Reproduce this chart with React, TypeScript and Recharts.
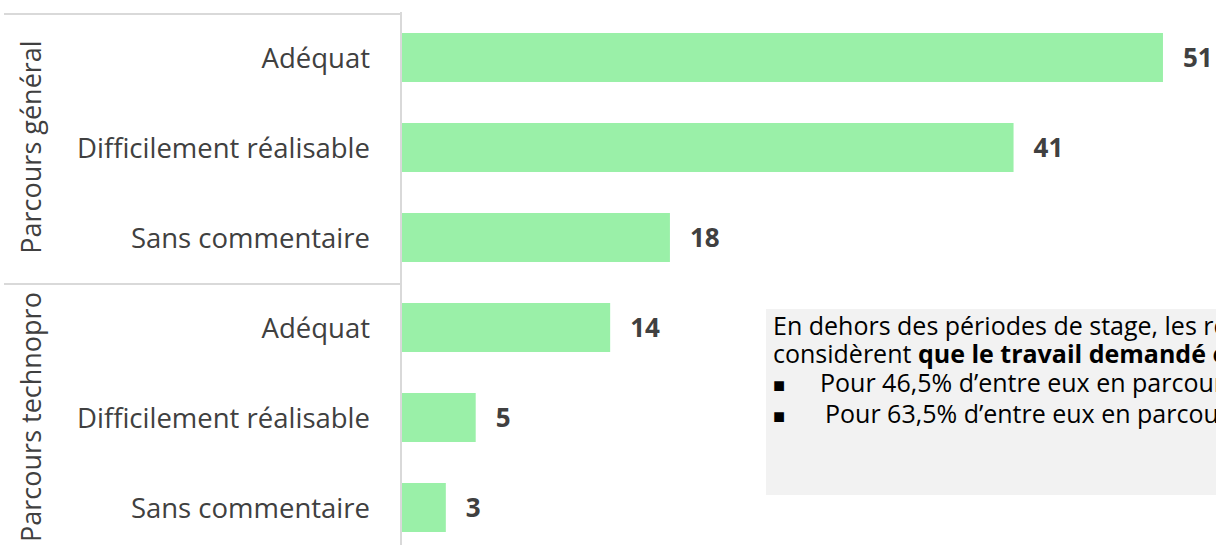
import { Bar, BarChart, LabelList, XAxis, YAxis } from 'recharts';

const categories = [
    'Adéquat',
    'Difficilement réalisable',
    'Sans commentaire',
    'Adéquat',
    'Difficilement réalisable',
    'Sans commentaire',
];
const groups = ['Parcours général', 'Parcours technopro'];
const groupOf = [0, 0, 0, 1, 1, 1];
const values = [51, 41, 18, 14, 5, 3];

const data = categories.map((name, i) => ({
    key: `${groupOf[i]}-${name}`,
    name,
    group: groups[groupOf[i]],
    value: values[i],
}));

const FONT = '"Open Sans", sans-serif';
const TEXT = '#404040';
const GRID = '#d9d9d9';

function CategoryTick(props: any) {
    const { y, payload, index } = props;
    const row = data[index];
    const half = payload.offset ?? 45;
    const first = index === 0 || groupOf[index] !== groupOf[index - 1];
    const middle = index === 1 || index === 4;
    return (
        <g>
            <text
                x={370}
                y={y}
                textAnchor="end"
                dominantBaseline="central"
                fontFamily={FONT}
                fontSize={27.5}
                fill={TEXT}
            >
                {row ? row.name : ''}
            </text>
            {first && (
                <line x1={4} x2={401} y1={y - half + 2} y2={y - half + 2} stroke={GRID} strokeWidth={2} />
            )}
            {middle && (
                <text
                    x={30}
                    y={y}
                    transform={`rotate(-90 30 ${y})`}
                    textAnchor="middle"
                    dominantBaseline="central"
                    fontFamily={FONT}
                    fontSize={27}
                    fill={TEXT}
                >
                    {row.group}
                </text>
            )}
        </g>
    );
}

export default function App() {
    return (
        <div
            style={{
                position: 'absolute',
                left: 0,
                top: 0,
                width: 1216,
                height: 545,
                overflow: 'hidden',
                background: '#fff',
            }}
        >
            <BarChart
                width={1216}
                height={560}
                data={data}
                layout="vertical"
                margin={{ top: 12, right: 0, left: 0, bottom: 8 }}
            >
                <XAxis type="number" domain={[0, 54.55]} hide />
                <YAxis
                    type="category"
                    dataKey="key"
                    width={401}
                    axisLine={{ stroke: GRID, strokeWidth: 2 }}
                    tickLine={false}
                    tick={<CategoryTick />}
                    interval={0}
                />
                <Bar dataKey="value" fill="#9af0a8" barSize={49} isAnimationActive={false}>
                    <LabelList
                        dataKey="value"
                        position="right"
                        offset={20}
                        fill={TEXT}
                        fontFamily={FONT}
                        fontWeight="bold"
                        fontSize={26}
                    />
                </Bar>
            </BarChart>
            <div
                style={{
                    position: 'absolute',
                    left: 766,
                    top: 309,
                    width: 480,
                    height: 186,
                    background: '#f2f2f2',
                    fontFamily: FONT,
                    fontSize: 25,
                    lineHeight: '28.3px',
                    color: '#000',
                    whiteSpace: 'nowrap',
                    padding: '2px 0 0 7px',
                    boxSizing: 'border-box',
                }}
            >
                <div>En dehors des périodes de stage, les répondants</div>
                <div>
                    considèrent <b>que le travail demandé est adéquat :</b>
                </div>
                <div>
                    <span style={{ display: 'inline-block', width: 47, fontSize: 20 }}>■</span>
                    Pour 46,5% d’entre eux en parcours général
                </div>
                <div>
                    <span style={{ display: 'inline-block', width: 52, fontSize: 20 }}>■</span>
                    Pour 63,5% d’entre eux en parcours technopro
                </div>
            </div>
        </div>
    );
}
